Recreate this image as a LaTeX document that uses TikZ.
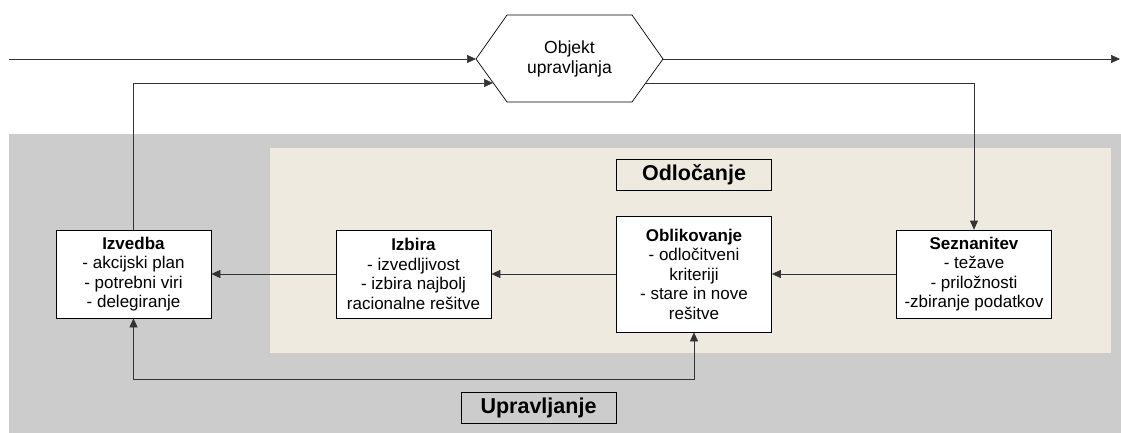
\documentclass[tikz,border=0pt]{standalone}
\usepackage{fontspec}
\setmainfont{Liberation Sans}
\usetikzlibrary{arrows.meta}
\definecolor{sivo}{RGB}{204,204,204}
\definecolor{bez}{RGB}{238,234,223}
\tikzset{
	korak/.style={draw,fill=white,line width=0.7pt,align=center,minimum width=155pt,minimum height=88pt,inner sep=2pt,font=\fontsize{17}{19.5}\selectfont},
	naslov/.style={draw,line width=0.9pt,minimum width=155pt,minimum height=31pt,inner sep=0pt,font=\fontsize{21.5}{24}\selectfont\bfseries},
	pot/.style={line width=0.7pt,draw=black!80,-{Triangle[length=9pt,width=8pt]}},
}

\begin{document}
\begin{tikzpicture}[x=1pt,y=-1pt]
	\useasboundingbox (0,0) rectangle (1121,433);
	\fill[sivo] (9,134) rectangle (1121,433);
	\fill[bez] (270,148) rectangle (1111,353);
	\draw[line width=0.7pt,fill=white] (476,59) -- (507,15) -- (632,15) -- (663,59) -- (632,102) -- (507,102) -- cycle;
	\node[align=center,font=\fontsize{17.5}{20}\selectfont] (obj) at (569.5,59) {Objekt\\upravljanja};
	\coordinate (objW) at (476,59);
	\coordinate (objE) at (663,59);
	\coordinate (objSW) at (493,83);
	\coordinate (objSE) at (646,83);
	\coordinate (vhod) at (9,59);
	\coordinate (izhod) at (1120,59);
	\node[korak] (izvedba) at (133.5,274) {\textbf{Izvedba}\\- akcijski plan\\- potrebni viri\\- delegiranje};
	\node[korak] (izbira) at (413.5,274) {\textbf{Izbira}\\- izvedljivost\\- izbira najbolj\\racionalne rešitve};
	\node[korak,minimum height=116pt] (oblikovanje) at (694,274) {\textbf{Oblikovanje}\\- odločitveni\\kriteriji\\- stare in nove\\rešitve};
	\node[korak] (seznanitev) at (974,274) {\textbf{Seznanitev}\\- težave\\- priložnosti\\-zbiranje podatkov};
	\node[naslov] (odlocanje) at (694,175) {Odločanje};
	\node[naslov] (upravljanje) at (538.5,408) {Upravljanje};
	\draw[pot] (vhod) -- (objW);
	\draw[pot] (objE) -- (izhod);
	\draw[pot] (izvedba.north) |- (objSW);
	\draw[pot] (objSE) -| (seznanitev.north);
	\draw[pot] (seznanitev) -- (oblikovanje);
	\draw[pot] (oblikovanje) -- (izbira);
	\draw[pot] (izbira) -- (izvedba);
	\draw[pot,{Triangle[length=9pt,width=8pt]}-{Triangle[length=9pt,width=8pt]}] (izvedba.south) -- ++(0,61) -| (oblikovanje.south);
\end{tikzpicture}
\end{document}
